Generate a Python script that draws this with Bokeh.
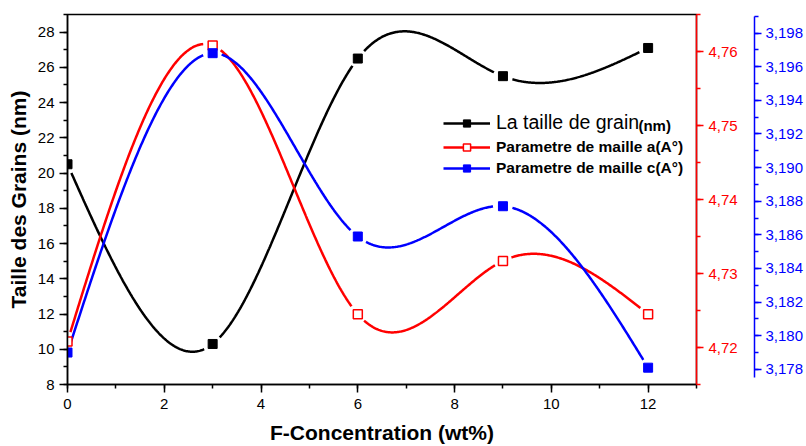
import numpy as np
from bokeh.plotting import figure
from bokeh.models import (Range1d, LinearAxis, SingleIntervalTicker,
                          CustomJSTickFormatter, Legend, LegendItem, Label)
from bokeh.embed import file_html
from bokeh.resources import INLINE

# ---- data -------------------------------------------------------------
concentration = [0, 3, 6, 9, 12]                      # F-concentration (wt%)
grain_size = [20.5, 10.3, 26.5, 25.5, 27.1]           # nm
lattice_a = [4.7208, 4.7608, 4.7245, 4.7317, 4.7245]  # A
lattice_c = [3.1790, 3.1968, 3.1859, 3.1877, 3.1781]  # A

X_RANGE = (0, 13)
GRAIN_RANGE = (8, 29)
A_RANGE = (4.715, 4.765)
C_RANGE = (3.1771, 3.1991)

W, H = 806, 446
BORDER_L, BORDER_R, BORDER_T, BORDER_B = 67, 108, 14, 58
FRAME_W = W - BORDER_L - BORDER_R
FRAME_H = H - BORDER_T - BORDER_B

FONT = "Liberation Sans"


def natural_spline(xs, ys, n=600):
    """Natural cubic spline through the points (smooth connecting line)."""
    x = np.asarray(xs, float)
    y = np.asarray(ys, float)
    k = len(x)
    h = np.diff(x)
    A = np.zeros((k, k))
    b = np.zeros(k)
    A[0, 0] = A[-1, -1] = 1.0
    for i in range(1, k - 1):
        A[i, i - 1] = h[i - 1]
        A[i, i] = 2 * (h[i - 1] + h[i])
        A[i, i + 1] = h[i]
        b[i] = 6 * ((y[i + 1] - y[i]) / h[i] - (y[i] - y[i - 1]) / h[i - 1])
    M = np.linalg.solve(A, b)
    xx = np.linspace(x[0], x[-1], n)
    idx = np.clip(np.searchsorted(x, xx) - 1, 0, k - 2)
    x0, x1 = x[idx], x[idx + 1]
    hh = x1 - x0
    t0 = x1 - xx
    t1 = xx - x0
    yy = (M[idx] * t0 ** 3 / (6 * hh) + M[idx + 1] * t1 ** 3 / (6 * hh)
          + (y[idx] / hh - M[idx] * hh / 6) * t0
          + (y[idx + 1] / hh - M[idx + 1] * hh / 6) * t1)
    return xx, yy


def gapped_curve(xs, ys, yrange, gap=9.0):
    """Spline with a small break around each symbol."""
    xx, yy = natural_spline(xs, ys)
    px = FRAME_W / (X_RANGE[1] - X_RANGE[0])
    py = FRAME_H / (yrange[1] - yrange[0])
    out = yy.copy()
    for xi, yi in zip(xs, ys):
        d = np.hypot((xx - xi) * px, (yy - yi) * py)
        out[d < gap] = np.nan
    return xx, out


p = figure(width=W, height=H, x_range=Range1d(*X_RANGE),
           y_range=Range1d(*GRAIN_RANGE), output_backend="svg",
           toolbar_location=None, min_border_left=BORDER_L,
           min_border_right=BORDER_R, min_border_top=BORDER_T,
           min_border_bottom=BORDER_B)
p.extra_y_ranges = {"a": Range1d(*A_RANGE), "c": Range1d(*C_RANGE)}

p.xgrid.visible = False
p.ygrid.visible = False
p.outline_line_color = "black"
p.outline_line_width = 1.5
p.background_fill_color = "white"
p.border_fill_color = "white"


def style_axis(ax, color, tick_out=8, standoff=5):
    ax.axis_line_color = color
    ax.axis_line_width = 1.5
    ax.major_tick_line_color = color
    ax.minor_tick_line_color = color
    ax.major_tick_line_width = 1.5
    ax.minor_tick_line_width = 1.5
    ax.major_tick_in = 0
    ax.major_tick_out = tick_out
    ax.minor_tick_in = 0
    ax.minor_tick_out = 4
    ax.major_label_text_color = color
    ax.major_label_text_font = FONT
    ax.major_label_text_font_size = "15px"
    ax.major_label_standoff = standoff
    ax.axis_label_text_font = FONT
    ax.axis_label_text_font_style = "bold"
    ax.axis_label_text_font_size = "21px"
    ax.axis_label_text_color = "black"


# bottom axis
xa = p.xaxis[0]
xa.ticker = SingleIntervalTicker(interval=2, num_minor_ticks=2)
style_axis(xa, "black", standoff=6)
xa.axis_label = "F-Concentration (wt%)"
xa.axis_label_standoff = 9

# left axis
ya = p.yaxis[0]
ya.ticker = SingleIntervalTicker(interval=2, num_minor_ticks=2)
style_axis(ya, "black")
ya.axis_label = "Taille des Grains (nm)"
ya.axis_label_standoff = 5

# right axes: lattice parameters a (red) and c (blue)
ax_a = LinearAxis(y_range_name="a",
                  ticker=SingleIntervalTicker(interval=0.01, num_minor_ticks=2),
                  formatter=CustomJSTickFormatter(
                      code="return tick.toFixed(2).replace('.', ',');"))
style_axis(ax_a, "red", tick_out=7)
ax_a.axis_label = " "
ax_a.axis_label_text_font_size = "2px"
ax_a.axis_label_standoff = 9
p.add_layout(ax_a, "right")

ax_c = LinearAxis(y_range_name="c",
                  ticker=SingleIntervalTicker(interval=0.002, num_minor_ticks=2),
                  formatter=CustomJSTickFormatter(
                      code="return tick.toFixed(3).replace('.', ',');"),
                  bounds=(3.1775, 3.1990))
style_axis(ax_c, "blue", tick_out=7, standoff=4)
p.add_layout(ax_c, "right")

# curves
LW = 2.5
gx, gy = gapped_curve(concentration, grain_size, GRAIN_RANGE)
ax_, ay_ = gapped_curve(concentration, lattice_a, A_RANGE)
cx_, cy_ = gapped_curve(concentration, lattice_c, C_RANGE)

l_grain = p.line(gx, gy, line_color="black", line_width=LW)
l_a = p.line(ax_, ay_, line_color="red", line_width=LW, y_range_name="a")
l_c = p.line(cx_, cy_, line_color="blue", line_width=LW, y_range_name="c")

s_grain = p.scatter(concentration, grain_size, marker="square", size=9,
                    fill_color="black", line_color="black")
s_a = p.scatter(concentration, lattice_a, marker="square", size=9,
                fill_color="white", line_color="red", line_width=1.5,
                y_range_name="a")
s_c = p.scatter(concentration, lattice_c, marker="square", size=9,
                fill_color="blue", line_color="blue", y_range_name="c")

# legend
common = dict(padding=0, margin=0, border_line_color=None,
              background_fill_alpha=0, glyph_width=47, glyph_height=18,
              label_height=18, label_standoff=6, label_text_font=FONT,
              label_text_color="black")
leg1 = Legend(items=[LegendItem(label="La taille de grain",
                                renderers=[l_grain, s_grain])],
              location=(376, 250), label_text_font_size="19.5px", **common)
leg2 = Legend(items=[LegendItem(label="Parametre de maille a(A°)",
                                renderers=[l_a, s_a]),
                     LegendItem(label="Parametre de maille c(A°)",
                                renderers=[l_c, s_c])],
              location=(376, 207), spacing=3, label_text_font_size="15.5px",
              label_text_font_style="bold", **common)
p.add_layout(leg1, "center")
p.add_layout(leg2, "center")
p.add_layout(Label(x=11.8, y=22.68, text="(nm)", text_font=FONT,
                   text_font_size="15px", text_font_style="bold",
                   text_baseline="middle", text_color="black"))

open("out.html", "w").write(file_html(p, INLINE))
